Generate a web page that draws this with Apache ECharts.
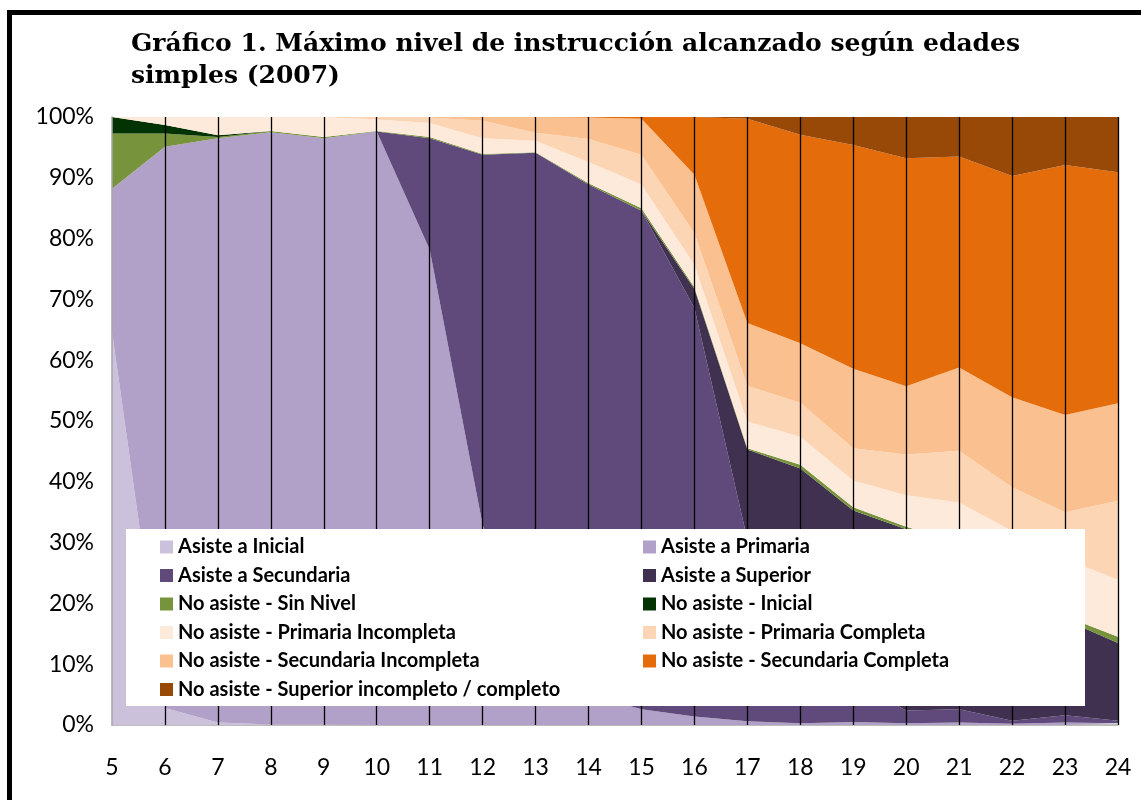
<!DOCTYPE html>
<html>
<head>
<meta charset="utf-8">
<script src="https://cdn.jsdelivr.net/npm/echarts@6/dist/echarts.min.js"></script>
<style>html,body{margin:0;padding:0;background:#fff;}#c{width:1141px;height:800px;}</style>
</head>
<body>
<div id="c"></div>
<script>
const ages = ['5','6','7','8','9','10','11','12','13','14','15','16','17','18','19','20','21','22','23','24'];
const yTicks = [0,10,20,30,40,50,60,70,80,90,100];
const names = [
  'Asiste a Inicial','Asiste a Primaria','Asiste a Secundaria','Asiste a Superior',
  'No asiste - Sin Nivel','No asiste - Inicial','No asiste - Primaria Incompleta','No asiste - Primaria Completa',
  'No asiste - Secundaria Incompleta','No asiste - Secundaria Completa','No asiste - Superior incompleto / completo'
];
const asisteInicial    = [64.7, 2.8, 0.4, 0.1, 0.1, 0, 0, 0, 0, 0, 0, 0, 0, 0, 0, 0, 0, 0, 0, 0];
const asistePrimaria   = [23.5, 92.3, 96.1, 97.4, 96.4, 97.6, 78.2, 32.9, 12.0, 5.0, 2.6, 1.4, 0.6, 0.3, 0.5, 0.3, 0.4, 0.2, 0.4, 0.3];
const asisteSecundaria = [0, 0, 0, 0, 0, 0, 18.3, 60.9, 82.1, 83.9, 82.0, 67.2, 29.9, 9.0, 6.5, 2.1, 2.2, 0.5, 1.2, 0.4];
const asisteSuperior   = [0, 0, 0, 0, 0, 0, 0, 0, 0, 0, 0, 3.1, 14.8, 32.9, 28.3, 29.8, 27.0, 21.9, 15.7, 12.8];
const noSinNivel       = [9.1, 2.2, 0.2, 0.2, 0.2, 0.1, 0.2, 0.1, 0.1, 0.2, 0.4, 0.3, 0.2, 0.6, 0.5, 0.4, 0.4, 0.4, 0.6, 1.0];
const noInicial        = [2.7, 1.4, 0.3, 0, 0, 0, 0, 0, 0, 0, 0, 0, 0, 0, 0, 0, 0, 0, 0, 0];
const noPrimInc        = [0, 1.3, 3.0, 2.3, 3.3, 1.9, 2.3, 2.6, 1.9, 3.5, 3.9, 3.7, 4.4, 4.6, 4.4, 5.2, 6.6, 8.9, 9.4, 9.4];
const noPrimComp       = [0, 0, 0, 0, 0, 0.3, 0.9, 2.9, 1.3, 3.8, 4.9, 5.2, 5.9, 5.6, 5.3, 6.7, 8.5, 7.2, 7.7, 13.0];
const noSecInc         = [0, 0, 0, 0, 0, 0.1, 0.1, 0.6, 2.6, 3.5, 5.9, 9.6, 10.3, 9.8, 13.1, 11.2, 13.7, 14.8, 16.0, 16.0];
const noSecComp        = [0, 0, 0, 0, 0, 0, 0, 0, 0, 0.1, 0.3, 9.5, 33.6, 34.3, 36.8, 37.5, 34.7, 36.4, 41.1, 38.0];
const noSuperior       = [0, 0, 0, 0, 0, 0, 0, 0, 0, 0, 0, 0, 0.3, 2.9, 4.6, 6.8, 6.5, 9.7, 7.9, 9.1];

const seriesData = [asisteInicial, asistePrimaria, asisteSecundaria, asisteSuperior, noSinNivel, noInicial,
  noPrimInc, noPrimComp, noSecInc, noSecComp, noSuperior];
const colors = ['#CCC1DA','#B1A0C7','#604A7B','#403151','#77933C','#033303',
  '#FDEADA','#FCD5B5','#FAC090','#E46C0A','#984807'];

const chart = echarts.init(document.getElementById('c'), null, {renderer: 'canvas'});
const series = seriesData.map(function (d, i) {
  return {
    name: names[i], type: 'line', stack: 'total', data: d,
    symbol: 'none', showSymbol: false, smooth: false,
    color: colors[i],
    itemStyle: {color: colors[i]},
    lineStyle: {width: 0, color: colors[i]},
    areaStyle: {color: colors[i], opacity: 1},
    emphasis: {disabled: true}
  };
});
// vertical category lines drawn above the areas
series[series.length - 1].markLine = {
  silent: true, animation: false, symbol: ['none', 'none'],
  label: {show: false},
  lineStyle: {color: '#000', width: 1.3, type: 'solid'},
  emphasis: {disabled: true},
  data: ages.slice(1).map(function (a) { return {xAxis: a}; })
};

const option = {
  animation: false,
  backgroundColor: '#fff',
  title: {
    text: 'Gráfico 1. Máximo nivel de instrucción alcanzado según edades\nsimples (2007)',
    left: 131, top: 28, padding: 0,
    textStyle: {fontFamily: 'DejaVu Serif', fontWeight: 'bold', fontSize: 25, lineHeight: 32, color: '#000'}
  },
  grid: {left: 112, right: 23, top: 117, bottom: 75, containLabel: false},
  legend: {
    left: 160, top: 537, width: 1000, zlevel: 1, z: 10,
    itemWidth: 13, itemHeight: 13, itemGap: 8.5, icon: 'rect',
    padding: 0,
    textStyle: {fontFamily: 'Lato', fontWeight: 'bold', fontSize: 20, color: '#000', width: 456.5, lineHeight: 20, overflow: 'truncate'},
    data: names
  },
  xAxis: {
    type: 'category', data: ages, boundaryGap: false,
    axisLine: {show: true, lineStyle: {color: '#A6A6A6', width: 1.5}},
    axisTick: {show: false},
    axisLabel: {margin: 31, fontFamily: 'Lato', fontSize: 23, color: '#000'},
    splitLine: {show: false}
  },
  yAxis: {
    type: 'value', min: 0, max: 100, interval: 10, z: 3,
    axisLine: {show: true, lineStyle: {color: '#A6A6A6', width: 1.5}},
    axisTick: {show: false},
    splitLine: {show: false},
    axisLabel: {margin: 18, fontFamily: 'Lato', fontSize: 23, color: '#000',
      formatter: function (v) { return yTicks.indexOf(v) >= 0 ? v + '%' : ''; }}
  },
  graphic: [
    {type: 'rect', zlevel: 1, z: 5, shape: {x: 126, y: 529, width: 959, height: 177}, style: {fill: '#fff', stroke: null}},
    {type: 'rect', zlevel: 1, z: 20, shape: {x: 9.5, y: 12.5, width: 1300, height: 1000}, style: {fill: null, stroke: '#000', lineWidth: 5}}
  ],
  series: series
};
chart.setOption(option);
</script>
</body>
</html>
